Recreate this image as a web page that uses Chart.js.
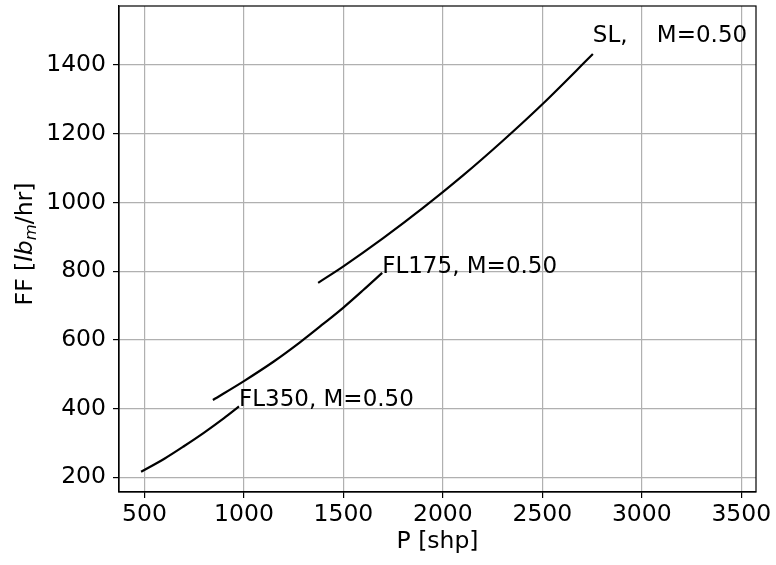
<!DOCTYPE html>
<html lang="en">
<head>
<meta charset="UTF-8">
<title>Fuel Flow vs Shaft Power</title>
<script src="https://cdn.jsdelivr.net/npm/chart.js"></script>
<style>
  html, body { margin: 0; padding: 0; background: #fff; }
  #wrap { width: 776px; height: 565px; position: relative; }
</style>
</head>
<body>
<div id="wrap"><canvas id="ffChart"></canvas></div>
<script>
  // shaft power [shp] against fuel flow [lbm/hr], one curve per altitude, M=0.50
  const slPower = [1373, 1500, 1700, 1900, 2100, 2300, 2500, 2754];
  const slFF = [766, 814, 896, 984, 1078, 1179, 1286, 1432];
  const fl175Power = [844, 1000, 1150, 1280, 1400, 1500, 1600, 1695];
  const fl175FF = [425, 480, 537, 592, 647, 694, 745, 795];
  const fl350Power = [483, 600, 700, 800, 900, 975];
  const fl350FF = [216, 254, 291, 330, 372, 406];

  const xTicks = [500, 1000, 1500, 2000, 2500, 3000, 3500];
  const yTicks = [200, 400, 600, 800, 1000, 1200, 1400];

  const curveLabels = [
    { text: 'SL,    M=0.50', x: 2754, y: 1467 },
    { text: 'FL175, M=0.50', x: 1695, y: 795 },
    { text: 'FL350, M=0.50', x: 975, y: 406 }
  ];

  const FONT = '"DejaVu Sans", sans-serif';
  const FS = 23.5;
  const LABEL_FS = 23;

  const toPoints = (xs, ys) => xs.map((x, i) => ({ x, y: ys[i] }));

  const curve = (label, xs, ys) => ({
    label,
    data: toPoints(xs, ys),
    showLine: true,
    borderColor: '#000',
    borderWidth: 2.2,
    pointRadius: 0,
    cubicInterpolationMode: 'monotone',
    clip: false
  });

  // text next to the end of each curve
  const curveText = {
    id: 'curveText',
    afterDatasetsDraw(chart) {
      const { ctx, scales: { x, y } } = chart;
      ctx.save();
      ctx.fillStyle = '#000';
      ctx.font = `${LABEL_FS}px ${FONT}`;
      ctx.textAlign = 'left';
      ctx.textBaseline = 'alphabetic';
      curveLabels.forEach(l => {
        ctx.fillText(l.text, x.getPixelForValue(l.x), y.getPixelForValue(l.y));
      });
      ctx.restore();
    }
  };

  // full box round the plot area
  const frame = {
    id: 'frame',
    afterDraw(chart) {
      const { ctx, chartArea: a } = chart;
      ctx.save();
      ctx.strokeStyle = '#000';
      ctx.lineWidth = 1.2;
      ctx.strokeRect(a.left, a.top, a.right - a.left, a.bottom - a.top);
      ctx.restore();
    }
  };

  // axis titles; the y title has an italic lb with subscript m
  const axisTitles = {
    id: 'axisTitles',
    afterDraw(chart) {
      const { ctx, chartArea: a } = chart;
      ctx.save();
      ctx.fillStyle = '#000';
      ctx.textBaseline = 'alphabetic';

      ctx.font = `${FS}px ${FONT}`;
      ctx.textAlign = 'center';
      ctx.fillText('P [shp]', (a.left + a.right) / 2, 548);

      const parts = [
        { t: 'FF [', f: `${FS}px ${FONT}`, dy: 0 },
        { t: 'lb', f: `italic ${FS}px ${FONT}`, dy: 0 },
        { t: 'm', f: `italic ${FS * 0.7}px ${FONT}`, dy: 4 },
        { t: '/hr]', f: `${FS}px ${FONT}`, dy: 0 }
      ];
      let total = 0;
      parts.forEach(p => { ctx.font = p.f; p.w = ctx.measureText(p.t).width; total += p.w; });
      ctx.translate(31.5, 244);
      ctx.rotate(-Math.PI / 2);
      ctx.textAlign = 'left';
      let cx = -total / 2;
      parts.forEach(p => {
        ctx.font = p.f;
        ctx.fillText(p.t, cx, p.dy);
        cx += p.w;
      });
      ctx.restore();
    }
  };

  const gridOpts = { color: '#b0b0b0', lineWidth: 1.2, tickColor: '#000', tickLength: 6, tickWidth: 1.2 };

  new Chart(document.getElementById('ffChart'), {
    type: 'scatter',
    data: {
      datasets: [
        curve('SL', slPower, slFF),
        curve('FL175', fl175Power, fl175FF),
        curve('FL350', fl350Power, fl350FF)
      ]
    },
    options: {
      responsive: true,
      maintainAspectRatio: false,
      animation: false,
      layout: { padding: { top: 6, right: 20, left: 0, bottom: 0 } },
      plugins: { legend: { display: false }, tooltip: { enabled: false } },
      scales: {
        x: {
          type: 'linear',
          min: 372,
          max: 3574,
          afterBuildTicks: s => { s.ticks = xTicks.map(v => ({ value: v })); },
          afterFit: s => { s.height = 73; s.paddingLeft = 0; s.paddingRight = 0; },
          ticks: { color: '#000', font: { family: FONT, size: FS }, padding: 3, maxRotation: 0, autoSkip: false, callback: v => String(v) },
          grid: gridOpts,
          border: { color: '#000', width: 1.2 }
        },
        y: {
          type: 'linear',
          min: 157,
          max: 1572,
          afterBuildTicks: s => { s.ticks = yTicks.map(v => ({ value: v })); },
          afterFit: s => { s.width = 119; s.paddingTop = 0; s.paddingBottom = 0; },
          ticks: { color: '#000', font: { family: FONT, size: FS }, padding: 7, autoSkip: false, callback: v => String(v) },
          grid: gridOpts,
          border: { color: '#000', width: 1.2 }
        }
      }
    },
    plugins: [curveText, frame, axisTitles]
  });
</script>
</body>
</html>
